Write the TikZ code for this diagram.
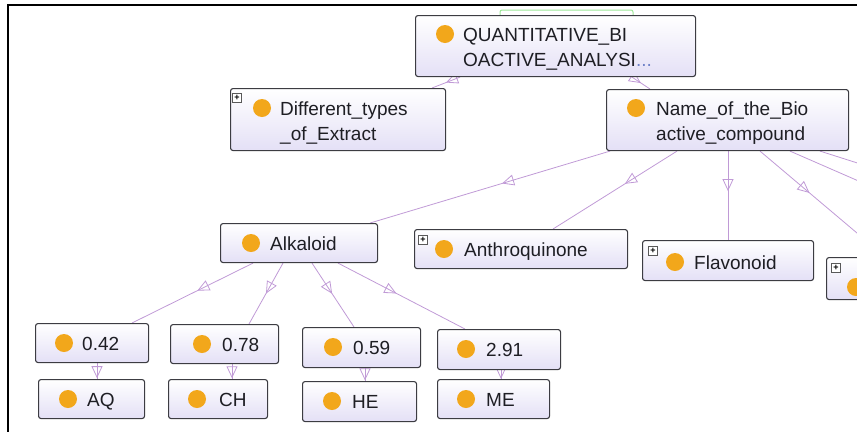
\documentclass[tikz,border=0pt]{standalone}
\usepackage{fontspec}
\setmainfont{Liberation Sans}
\usetikzlibrary{calc,arrows.meta,decorations.markings}

\definecolor{edgecol}{HTML}{C09AD6}
\definecolor{boxline}{HTML}{3C3C42}
\definecolor{boxlav}{HTML}{E4E0F6}
\definecolor{dotcol}{HTML}{F2A71B}
\definecolor{tabgreen}{HTML}{9EE89A}
\definecolor{ellip}{HTML}{6F82C8}
\definecolor{txtcol}{HTML}{1E1E24}

\pgfdeclarelayer{background}
\pgfsetlayers{background,main}

\tikzset{
  cls/.style 2 args={draw=boxline, line width=1.1pt, rounded corners=2.5pt,
    top color=white, middle color=white, bottom color=boxlav,
    inner sep=0pt, anchor=north west, minimum width=#1, minimum height=#2},
  dot/.style={circle, fill=dotcol, minimum size=18pt, inner sep=0pt},
  lbl/.style={anchor=base west, inner sep=0pt, align=left, text=txtcol,
    font=\fontsize{19}{25}\selectfont},
  plusbox/.style={draw=gray!70!black, fill=white, line width=0.6pt,
    minimum size=9pt, inner sep=0pt, font=\fontsize{9}{9}\selectfont\bfseries},
  link/.style={draw=edgecol, line width=0.8pt},
  tri/.style={link, postaction={decorate}, decoration={markings,
    mark=at position #1 with {\arrow[edgecol, line width=0.8pt]{Triangle[open,length=12pt,width=11pt]}}}},
}

\begin{document}
\begin{tikzpicture}[x=1pt, y=-1pt]
\useasboundingbox (0,0) rectangle (857,432);
\clip (0,0) rectangle (857,432);

% outer frame
\draw[black, line width=1.6pt] (857,5) -- (8,5) -- (8,432);

% ---------- class boxes ----------
\node[cls={280pt}{61pt}] (top) at (415,15) {};
\node[cls={215pt}{62pt}] (diff) at (230,88) {};
\node[cls={242pt}{61pt}] (name) at (606,89) {};
\node[cls={157pt}{39pt}] (alk) at (220,223) {};
\node[cls={213pt}{39pt}] (anth) at (414,229) {};
\node[cls={171pt}{40pt}] (flav) at (642,240) {};
\node[cls={60pt}{42pt}] (part) at (826,257) {};
\node[cls={113pt}{39pt}] (v42) at (35,323) {};
\node[cls={108pt}{39pt}] (v78) at (170,324) {};
\node[cls={118pt}{40pt}] (v59) at (302,327) {};
\node[cls={123pt}{40pt}] (v291) at (437,329) {};
\node[cls={106pt}{39pt}] (aq) at (38,379) {};
\node[cls={99pt}{39pt}] (ch) at (168,379) {};
\node[cls={114pt}{40pt}] (he) at (302,381) {};
\node[cls={112pt}{39pt}] (me) at (437,379) {};

% ---------- markers and labels (two-line labels sit on their last baseline) ----------
\node[dot] (top-d) at (445,34) {};
\node[lbl] (top-t) at (463,66) {QUANTITATIVE\_BI\\OACTIVE\_ANALYSI\textcolor{ellip}{...}};

\node[plusbox] (diff-p) at (237,98) {+};
\node[dot] (diff-d) at (262,108) {};
\node[lbl] (diff-t) at (280,140) {Different\_types\\\_of\_Extract};

\node[dot] (name-d) at (636,108) {};
\node[lbl] (name-t) at (656,140) {Name\_of\_the\_Bio\\active\_compound};

\node[dot] (alk-d) at (251,243) {};
\node[lbl] (alk-t) at (270,250) {Alkaloid};

\node[plusbox] (anth-p) at (423,240) {+};
\node[dot] (anth-d) at (444,249) {};
\node[lbl] (anth-t) at (464,256) {Anthroquinone};

\node[plusbox] (flav-p) at (653,251) {+};
\node[dot] (flav-d) at (675,262) {};
\node[lbl] (flav-t) at (694,269) {Flavonoid};

\node[plusbox] (part-p) at (836,268) {+};
\node[dot] (part-d) at (856,287) {};

\node[dot] (v42-d) at (64,343) {};
\node[lbl] (v42-t) at (82,350) {0.42};
\node[dot] (v78-d) at (202,344) {};
\node[lbl] (v78-t) at (222,351) {0.78};
\node[dot] (v59-d) at (333,347) {};
\node[lbl] (v59-t) at (353,354) {0.59};
\node[dot] (v291-d) at (466,349) {};
\node[lbl] (v291-t) at (486,356) {2.91};

\node[dot] (aq-d) at (68,399) {};
\node[lbl] (aq-t) at (87,406) {AQ};
\node[dot] (ch-d) at (197,399) {};
\node[lbl] (ch-t) at (219,406) {CH};
\node[dot] (he-d) at (332,401) {};
\node[lbl] (he-t) at (352,408) {HE};
\node[dot] (me-d) at (466,399) {};
\node[lbl] (me-t) at (486,406) {ME};

% free ends of links that leave the view
\coordinate (r1) at (870,244);
\coordinate (r2) at (870,186);
\coordinate (r3) at (870,167);

% ---------- links (behind the boxes) ----------
\begin{pgfonlayer}{background}
  % green tab behind the root class
  \draw[tabgreen, line width=1pt, fill=white, rounded corners=2pt]
    ($(top.north west)+(85,8)$) rectangle ($(top.north west)+(218,-5)$);

  \path[tri=0.5] ($(top.south west)+(45,0)$) -- ($(diff.north west)+(202,0)$);
  \path[tri=0.5] ($(top.south west)+(217,0)$) -- ($(name.north west)+(44,0)$);

  \path[tri=0.45] ($(name.south west)+(4,0)$) -- ($(alk.north east)+(-8,0)$);
  \path[tri=0.42] ($(name.south west)+(71,0)$) -- ($(anth.north west)+(139,0)$);
  \path[tri=0.45] ($(name.south west)+(122,0)$) -- ($(flav.north west)+(86,0)$);
  \path[tri=0.45] ($(name.south west)+(154,0)$) -- (r1);
  \path[link] ($(name.south west)+(184,0)$) -- (r2);
  \path[link] ($(name.south west)+(214,0)$) -- (r3);

  \path[tri=0.46] ($(alk.south west)+(33,0)$) -- ($(v42.north west)+(97,0)$);
  \path[tri=0.5] ($(alk.south west)+(63,0)$) -- ($(v78.north west)+(79,0)$);
  \path[tri=0.48] ($(alk.south west)+(92,0)$) -- ($(v59.north west)+(52,0)$);
  \path[tri=0.46] ($(alk.south west)+(118,0)$) -- ($(v291.north west)+(28,0)$);

  \path[tri=0.95] ($(v42.south west)+(62,0)$) -- ($(aq.north west)+(59,0)$);
  \path[tri=0.95] ($(v78.south west)+(62,0)$) -- ($(ch.north west)+(64,0)$);
  \path[tri=0.95] ($(v59.south west)+(63,0)$) -- ($(he.north west)+(63,0)$);
  \path[tri=0.99] ($(v291.south west)+(64,0)$) -- ($(me.north west)+(64,0)$);
\end{pgfonlayer}
\end{tikzpicture}
\end{document}
